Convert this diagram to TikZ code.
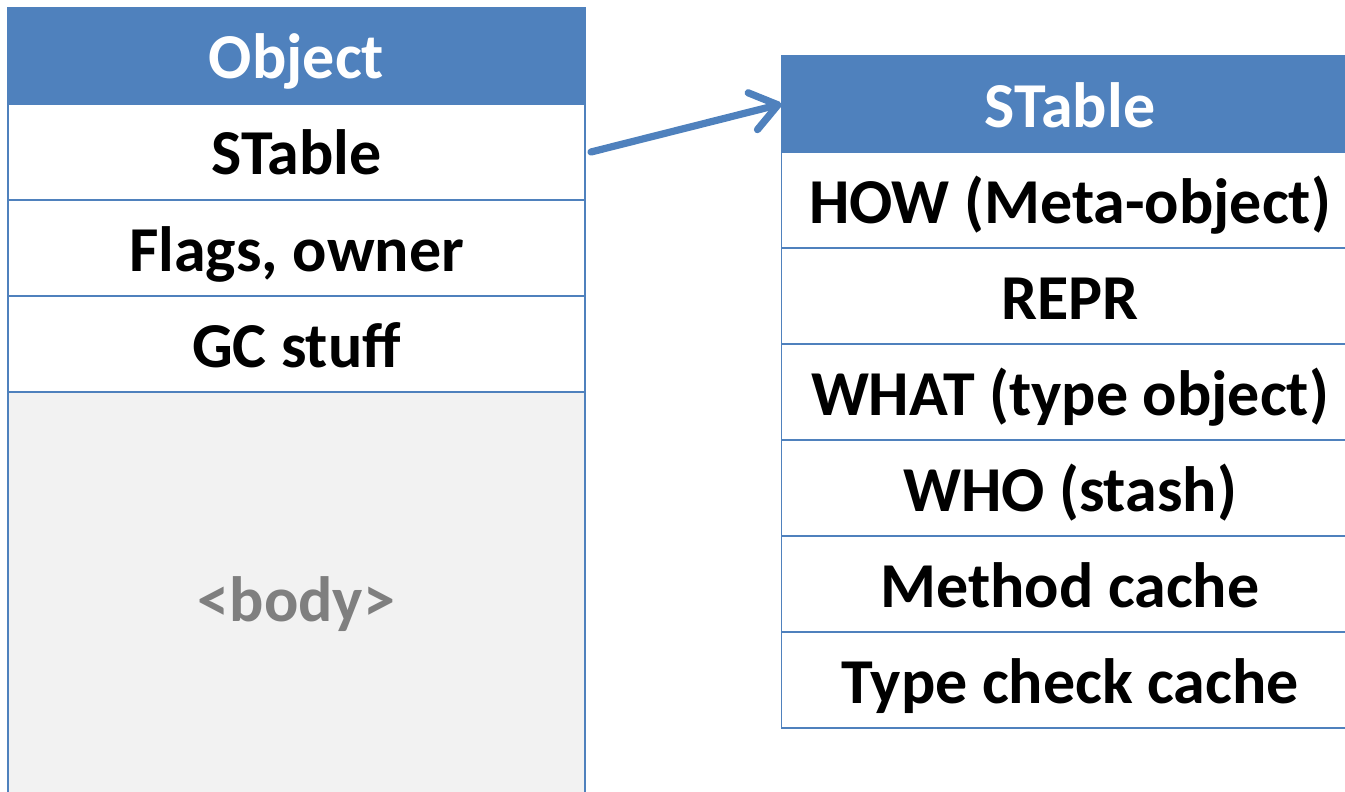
\documentclass[tikz,border=0pt]{standalone}
\usepackage{fontspec}
\setmainfont{Carlito}
\usetikzlibrary{positioning,arrows.meta}
\definecolor{hdrblue}{HTML}{4F81BD}
\definecolor{bodygray}{HTML}{F2F2F2}
\definecolor{bodytext}{HTML}{7F7F7F}
\newdimen\cellwidth
\setlength{\cellwidth}{288.5pt}
\newdimen\cellheight
\setlength{\cellheight}{48pt}
\tikzstyle{cellstyle}=[shape=rectangle,draw=hdrblue,line width=0.75pt,minimum width=\cellwidth,minimum height=\cellheight,inner sep=0pt,outer sep=0pt,text height=26pt,text depth=3pt,font=\fontsize{32}{36}\selectfont\bfseries]
\tikzstyle{headstyle}=[cellstyle,fill=hdrblue,text=white]
\tikzstyle{bodystyle}=[cellstyle,fill=bodygray,text=bodytext,minimum height=206pt]
\tikzstyle{linkstyle}=[draw=hdrblue,line width=3.6pt,line cap=round,-{Straight Barb[length=13pt,width=19pt,round]}]

\begin{document}
\begin{tikzpicture}[x=0.5pt,y=-0.5pt]
\useasboundingbox (0,0) rectangle (1345,792);
\clip (0,0) rectangle (1345,792);

% the object
\node[headstyle] (obj) at (296.5,56) {Object};
\node[cellstyle,below=0pt of obj] (objstable) {STable};
\node[cellstyle,below=0pt of objstable] (objflags) {Flags, owner};
\node[cellstyle,below=0pt of objflags] (objgc) {GC stuff};
\node[bodystyle,below=0pt of objgc] (objbody) {<body>};

% the shared table
\node[headstyle] (st) at (1070,104) {STable};
\node[cellstyle,below=0pt of st] (sthow) {HOW (Meta-object)};
\node[cellstyle,below=0pt of sthow] (strepr) {REPR};
\node[cellstyle,below=0pt of strepr] (stwhat) {WHAT (type object)};
\node[cellstyle,below=0pt of stwhat] (stwho) {WHO (stash)};
\node[cellstyle,below=0pt of stwho] (stmeth) {Method cache};
\node[cellstyle,below=0pt of stmeth] (sttype) {Type check cache};

\draw[linkstyle] ([xshift=3pt]objstable.east) -- (st.west);
\end{tikzpicture}
\end{document}
